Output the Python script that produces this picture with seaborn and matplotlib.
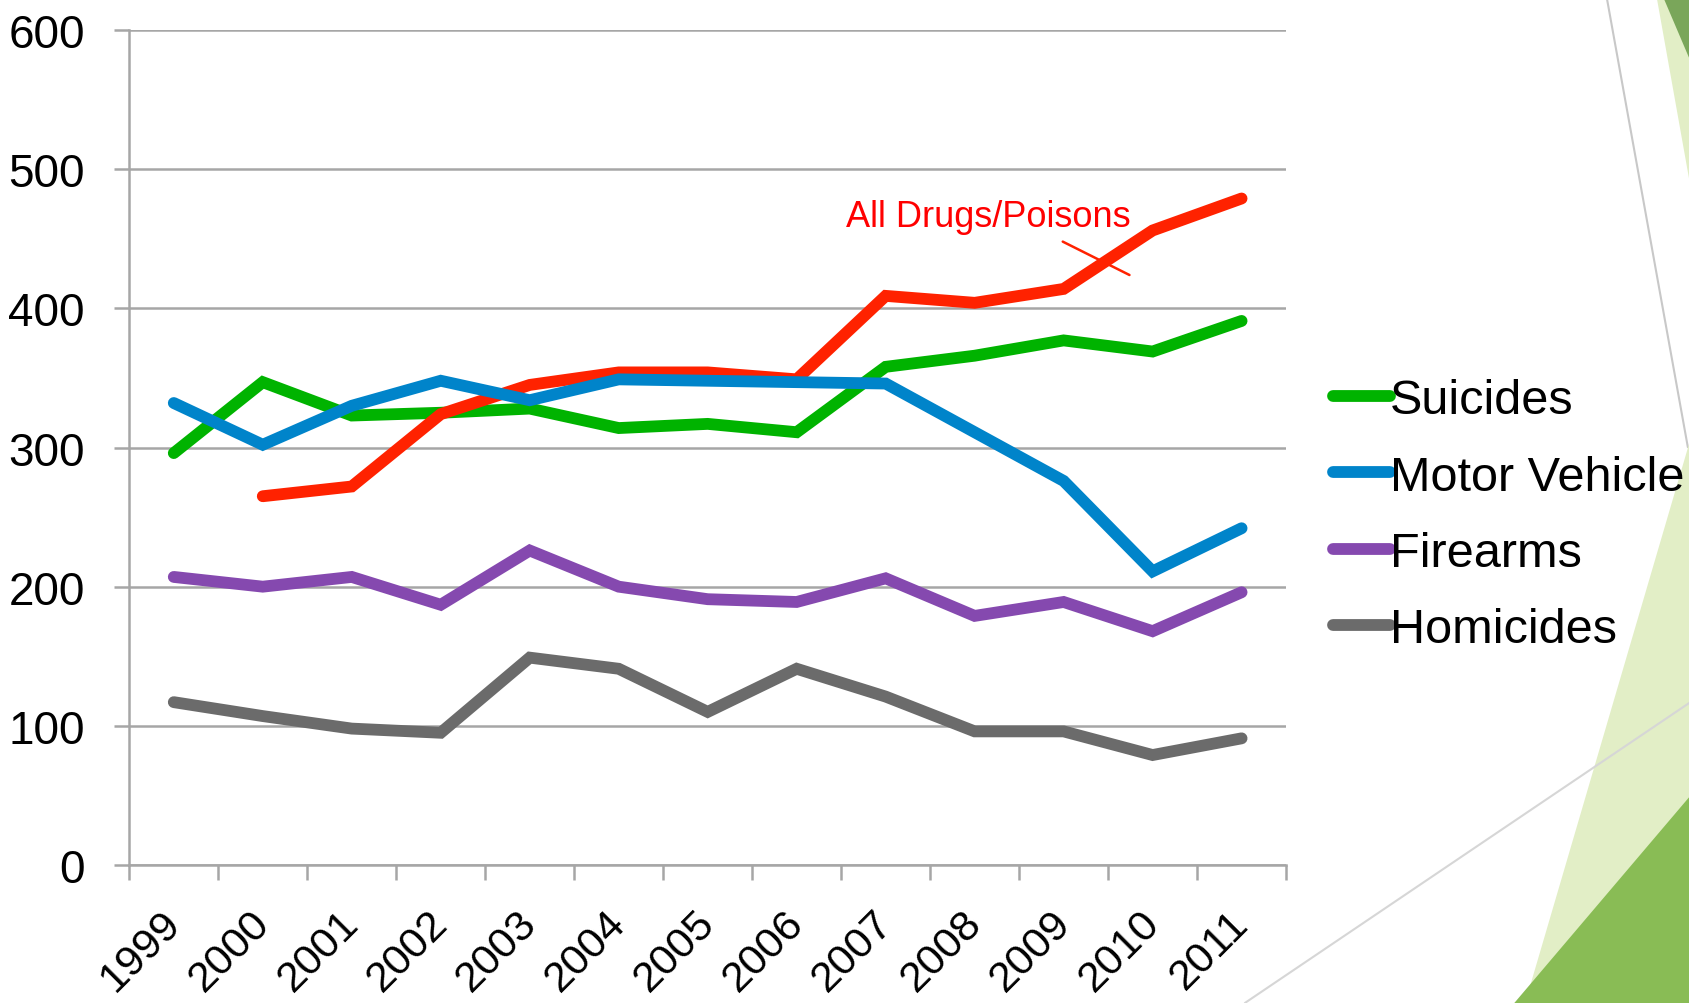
import numpy as np
import pandas as pd
import seaborn as sns
import matplotlib.pyplot as plt
from matplotlib.patches import Polygon
from matplotlib.lines import Line2D
import matplotlib.transforms as mtransforms

# ---- data (rate per year) ----
years = [1999, 2000, 2001, 2002, 2003, 2004, 2005, 2006, 2007, 2008, 2009, 2010, 2011]
suicides = [296, 347, 323, 325, 328, 314, 317, 311, 358, 366, 377, 369, 391]
motor_vehicle = [332, 302, 330, 348, 334, 349, 348, 347, 346, 311, 276, 211, 242]
drugs = [np.nan, 265, 272, 324, 345, 354, 354, 349, 409, 404, 414, 456, 479]
firearms = [207, 200, 207, 187, 226, 200, 191, 189, 206, 179, 189, 168, 196]
homicides = [117, 107, 98, 95, 149, 141, 110, 141, 121, 96, 96, 79, 91]
y_ticks = [0, 100, 200, 300, 400, 500, 600]

colors = {
    "Suicides": "#00B300",
    "Motor Vehicle": "#0084CA",
    "All Drugs/Poisons": "#FF2200",
    "Firearms": "#8549AF",
    "Homicides": "#6B6B6B",
}
GRID = "#A6A6A6"
LW = 8.5

sns.set_style("white")
plt.rcParams["font.family"] = ["Liberation Sans", "DejaVu Sans"]
plt.rcParams["text.color"] = "black"
plt.rcParams["xtick.labelcolor"] = "black"
plt.rcParams["ytick.labelcolor"] = "black"

fig = plt.figure(figsize=(16.9, 10.04), dpi=100)
ax = fig.add_axes([0.0765, 0.1375, 0.6845, 0.8315])
ax.patch.set_alpha(0)

# ---- background decoration (slide theme) ----
def fpoly(pts, color, z=0):
    xy = [(x / 1568, 1 - y / 932) for x, y in pts]
    fig.add_artist(Polygon(xy, closed=True, facecolor=color, edgecolor="none",
                           transform=fig.transFigure, zorder=z))

def fline(p0, p1, color, lw=1.5):
    fig.add_artist(Line2D([p0[0] / 1568, p1[0] / 1568], [1 - p0[1] / 932, 1 - p1[1] / 932],
                          color=color, lw=lw, transform=fig.transFigure, zorder=0))

fpoly([(1537, 0), (1568, 0), (1568, 172)], "#E2EEC6")
fpoly([(1544, 0), (1568, 0), (1568, 57)], "#7AA65A")
fline((1491, 0), (1566, 416), "#C8C8C8")
fpoly([(1568, 410), (1415, 932), (1568, 932)], "#E2EEC6")
fline((1568, 653), (1155, 932), "#D6D6D6")
fpoly([(1405, 932), (1568, 740), (1568, 932)], "#89BC55")

# ---- lines (draw order: green, red, blue on top) ----
series = [
    ("Suicides", suicides, True),
    ("All Drugs/Poisons", drugs, False),
    ("Motor Vehicle", motor_vehicle, True),
    ("Firearms", firearms, True),
    ("Homicides", homicides, True),
]
for name, vals, in_legend in series:
    df = pd.DataFrame({"year": years, "value": vals}).dropna()
    sns.lineplot(data=df, x="year", y="value", ax=ax, color=colors[name], lw=LW,
                 estimator=None, sort=False, legend=False,
                 label=name if in_legend else "_nolegend_",
                 solid_capstyle="round", solid_joinstyle="miter")

# ---- axes styling ----
ax.set_xlim(years[0] - 0.5, years[-1] + 0.5)
ax.set_ylim(0, 600)
ax.set_yticks(y_ticks)
ax.set_xticks(years)
ax.set_xticks(np.arange(years[0] - 0.5, years[-1] + 1, 1.0), minor=True)
ax.set_xlabel("")
ax.set_ylabel("")
ax.yaxis.grid(True, color=GRID, lw=1.8)
ax.xaxis.grid(False)
ax.set_axisbelow(True)
for side in ["top", "right"]:
    ax.spines[side].set_visible(False)
for side in ["left", "bottom"]:
    ax.spines[side].set_color(GRID)
    ax.spines[side].set_linewidth(1.8)

ax.tick_params(axis="y", which="major", direction="out", length=11, width=1.8,
               color=GRID, labelsize=33, pad=21, left=True)
ax.tick_params(axis="x", which="major", length=0, labelsize=31, pad=27, bottom=True)
ax.tick_params(axis="x", which="minor", direction="out", length=11, width=1.8,
               color=GRID, bottom=True)
shift = mtransforms.ScaledTranslation(15 / 100, 0, fig.dpi_scale_trans)
for lab in ax.get_xticklabels():
    lab.set_rotation(45)
    lab.set_ha("right")
    lab.set_va("top")
    lab.set_transform(lab.get_transform() + shift)

# ---- annotation for the unlabeled red series ----
ax.text(2008.15, 459, "All Drugs/Poisons", color="#FF0000", fontsize=26,
        ha="center", va="baseline")
ax.annotate("", xy=(2009.74, 424), xytext=(2008.99, 448),
            arrowprops=dict(arrowstyle="-", color="#FF2200", lw=1.8,
                            shrinkA=0, shrinkB=0))

# ---- legend ----
handles, labels = ax.get_legend_handles_labels()
leg = fig.legend(handles, labels, loc="center left", bbox_to_anchor=(0.789, 0.486),
                 frameon=False, fontsize=35, handlelength=1.17, handletextpad=0.0,
                 labelspacing=0.64, borderpad=0, borderaxespad=0)
for h in leg.get_lines():
    h.set_linewidth(LW)
    h.set_solid_capstyle("round")

fig.savefig("out.png", dpi=100)
